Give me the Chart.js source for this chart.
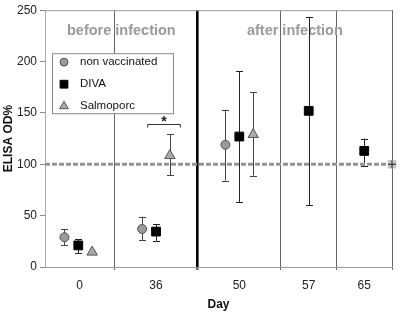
<!DOCTYPE html>
<html>
<head>
<meta charset="utf-8">
<script src="https://cdn.jsdelivr.net/npm/chart.js@4/dist/chart.umd.min.js"></script>
<style>
html,body{margin:0;padding:0;background:#fff;}
#wrap{width:400px;height:312px;}
</style>
</head>
<body>
<div id="wrap"><canvas id="c" width="400" height="312"></canvas></div>
<script>
// ---- data ----
const days = ['0', '36', '50', '57', '65'];
const dayCenters = [2.5, 8, 14, 19, 23];
const dayDividers = [5, 11, 17, 21, 25];
const infectionDivider = 11;

const nonVaccX  = [1.4, 7, 13];
const nonVaccY  = [29, 37, 119];
const nonVaccLo = [21, 26, 84];
const nonVaccHi = [37, 49, 153];

const divaX  = [2.4, 8, 14, 19, 23];
const divaY  = [21, 34.5, 127, 152, 113];
const divaLo = [13.5, 25.5, 63, 60, 98.5];
const divaHi = [27, 41.5, 190.5, 243.5, 125];

const salmoX  = [3.4, 9, 15];
const salmoY  = [14.5, 108.5, 129];
const salmoLo = [14.5, 89.5, 89];
const salmoHi = [14.5, 129, 170];

const cutoffX = [0, 25];
const cutoffY = [100, 100];

const yTicks = [0, 50, 100, 150, 200, 250];
const phaseLabels = ['before infection', 'after infection'];
const phaseCenters = [5.5, 18];
const sigBracket = {x0: 7.4, x1: 9.75, y: 139, label: '*'};

// ---- helpers ----
const pts = (xs, ys) => xs.map((x, i) => ({x: x, y: ys[i]}));
const FONT = "'Liberation Sans', Arial, sans-serif";
Chart.defaults.font.family = FONT;

const errorSets = [
  {x: nonVaccX, lo: nonVaccLo, hi: nonVaccHi, color: '#444'},
  {x: divaX, lo: divaLo, hi: divaHi, color: '#222'},
  {x: salmoX, lo: salmoLo, hi: salmoHi, color: '#444'}
];

const decorPlugin = {
  id: 'decor',
  beforeDatasetsDraw(chart) {
    const ctx = chart.ctx, xs = chart.scales.x, ys = chart.scales.y, ca = chart.chartArea;
    ctx.save();
    // top border
    ctx.strokeStyle = '#999'; ctx.lineWidth = 1;
    ctx.beginPath(); ctx.moveTo(ca.left, ca.top + 0.5); ctx.lineTo(ca.right, ca.top + 0.5); ctx.stroke();
    // phase labels
    ctx.fillStyle = '#9a9a9a';
    ctx.font = 'bold 14.5px ' + FONT;
    ctx.textAlign = 'center'; ctx.textBaseline = 'middle';
    phaseLabels.forEach((t, i) => ctx.fillText(t, xs.getPixelForValue(phaseCenters[i]), ys.getPixelForValue(229.5)));
    // error bars
    errorSets.forEach(s => {
      ctx.strokeStyle = s.color; ctx.lineWidth = 1;
      s.x.forEach((xv, i) => {
        if (s.lo[i] === s.hi[i]) return;
        const px = Math.round(xs.getPixelForValue(xv)) + 0.5;
        const pl = ys.getPixelForValue(s.lo[i]), ph = ys.getPixelForValue(s.hi[i]);
        ctx.beginPath();
        ctx.moveTo(px, pl); ctx.lineTo(px, ph);
        ctx.moveTo(px - 3.5, Math.round(pl) + 0.5); ctx.lineTo(px + 3.5, Math.round(pl) + 0.5);
        ctx.moveTo(px - 3.5, Math.round(ph) + 0.5); ctx.lineTo(px + 3.5, Math.round(ph) + 0.5);
        ctx.stroke();
      });
    });
    // significance bracket
    const bx0 = xs.getPixelForValue(sigBracket.x0), bx1 = xs.getPixelForValue(sigBracket.x1);
    const by = Math.round(ys.getPixelForValue(sigBracket.y)) + 0.5;
    ctx.strokeStyle = '#333';
    ctx.beginPath();
    ctx.moveTo(bx0, by + 3); ctx.lineTo(bx0, by); ctx.lineTo(bx1, by); ctx.lineTo(bx1, by + 3);
    ctx.stroke();
    ctx.fillStyle = '#222'; ctx.font = 'bold 14px ' + FONT;
    ctx.textBaseline = 'alphabetic';
    ctx.fillText(sigBracket.label, (bx0 + bx1) / 2, by + 1);
    ctx.restore();
  },
  afterDraw(chart) {
    const ctx = chart.ctx, ca = chart.chartArea;
    const lx = ca.left + 7, ly = ca.top + 43, lw = 121, lh = 60;
    ctx.save();
    ctx.fillStyle = '#fff'; ctx.fillRect(lx, ly, lw, lh);
    ctx.strokeStyle = '#888'; ctx.lineWidth = 1;
    ctx.strokeRect(lx + 0.5, ly + 0.5, lw, lh);
    const items = [
      {text: 'non vaccinated', style: 'circle', r: 4, fill: '#999', stroke: '#555'},
      {text: 'DIVA', style: 'rect', r: 5.5, fill: '#000', stroke: '#000'},
      {text: 'Salmoporc', style: 'triangle', r: 5, fill: '#aaa', stroke: '#555'}
    ];
    items.forEach((it, i) => {
      const cy = ly + 9 + i * 22;
      ctx.fillStyle = it.fill; ctx.strokeStyle = it.stroke; ctx.lineWidth = 1;
      Chart.helpers.drawPoint(ctx, {pointStyle: it.style, radius: it.r, rotation: 0, borderWidth: 1}, lx + 12, cy);
      ctx.fillStyle = '#111'; ctx.font = '11.5px ' + FONT;
      ctx.textAlign = 'left'; ctx.textBaseline = 'middle';
      ctx.fillText(it.text, lx + 28, cy);
    });
    ctx.restore();
  }
};

new Chart(document.getElementById('c'), {
  type: 'scatter',
  data: {
    datasets: [
      {label: 'cutoff', type: 'line', data: pts(cutoffX, cutoffY), borderColor: '#949494', borderWidth: 3,
       borderDash: [5, 2], pointRadius: 0, fill: false, order: 5},
      {label: 'cutoff marker', data: [{x: cutoffX[1], y: cutoffY[1]}], pointStyle: 'rect', pointRadius: 6,
       backgroundColor: '#c4c4c4', borderColor: '#c4c4c4', borderWidth: 0, clip: false, order: 4},
      {label: 'cutoff cross', data: [{x: cutoffX[1], y: cutoffY[1]}], pointStyle: 'cross', pointRadius: 4,
       borderColor: '#222', borderWidth: 1, clip: false, order: 3},
      {label: 'non vaccinated', data: pts(nonVaccX, nonVaccY), pointStyle: 'circle', pointRadius: 4.5,
       backgroundColor: '#9a9a9a', borderColor: '#555', borderWidth: 1, order: 2},
      {label: 'DIVA', data: pts(divaX, divaY), pointStyle: 'rect', pointRadius: 6.2,
       backgroundColor: '#000', borderColor: '#000', borderWidth: 1, order: 1},
      {label: 'Salmoporc', data: pts(salmoX, salmoY), pointStyle: 'triangle', pointRadius: 6,
       backgroundColor: '#aaa', borderColor: '#555', borderWidth: 1, order: 0}
    ]
  },
  options: {
    responsive: false,
    animation: false,
    layout: {padding: {top: 5, right: 6, left: 0, bottom: 0}},
    plugins: {legend: {display: false}, tooltip: {enabled: false}},
    scales: {
      x: {
        type: 'linear', min: 0, max: 25,
        afterBuildTicks(scale) {
          scale.ticks = dayDividers.concat(dayCenters).sort((a, b) => a - b).map(v => ({value: v}));
        },
        afterFit(scale) { scale.height = 45; },
        ticks: {
          autoSkip: false, maxRotation: 0, padding: 8, color: '#222', font: {size: 12},
          callback(v) { const i = dayCenters.indexOf(v); return i >= 0 ? days[i] : ''; }
        },
        grid: {
          drawOnChartArea: true, tickLength: 3,
          color(ctx) { const v = ctx.tick && ctx.tick.value; return dayDividers.includes(v) ? (v === infectionDivider ? '#000' : '#666') : 'rgba(0,0,0,0)'; },
          tickColor(ctx) { const v = ctx.tick && ctx.tick.value; return dayDividers.includes(v) ? '#666' : 'rgba(0,0,0,0)'; },
          lineWidth(ctx) { const v = ctx.tick && ctx.tick.value; return v === infectionDivider ? 2.6 : 1; }
        },
        border: {color: '#999', width: 1},
        title: {display: true, text: 'Day', color: '#111', font: {size: 12, weight: 'bold'}, padding: {top: 0, bottom: 0}}
      },
      y: {
        min: 0, max: 250,
        afterBuildTicks(scale) { scale.ticks = yTicks.map(v => ({value: v})); },
        afterFit(scale) { scale.width = 45; },
        ticks: {padding: 3, color: '#222', font: {size: 12}},
        grid: {drawOnChartArea: false, tickLength: 5, color: '#888'},
        border: {color: '#aaa', width: 1},
        title: {display: true, text: 'ELISA OD%', color: '#111', font: {size: 12, weight: 'bold'}, padding: {top: 1, bottom: 0}}
      }
    }
  },
  plugins: [decorPlugin]
});
</script>
</body>
</html>
